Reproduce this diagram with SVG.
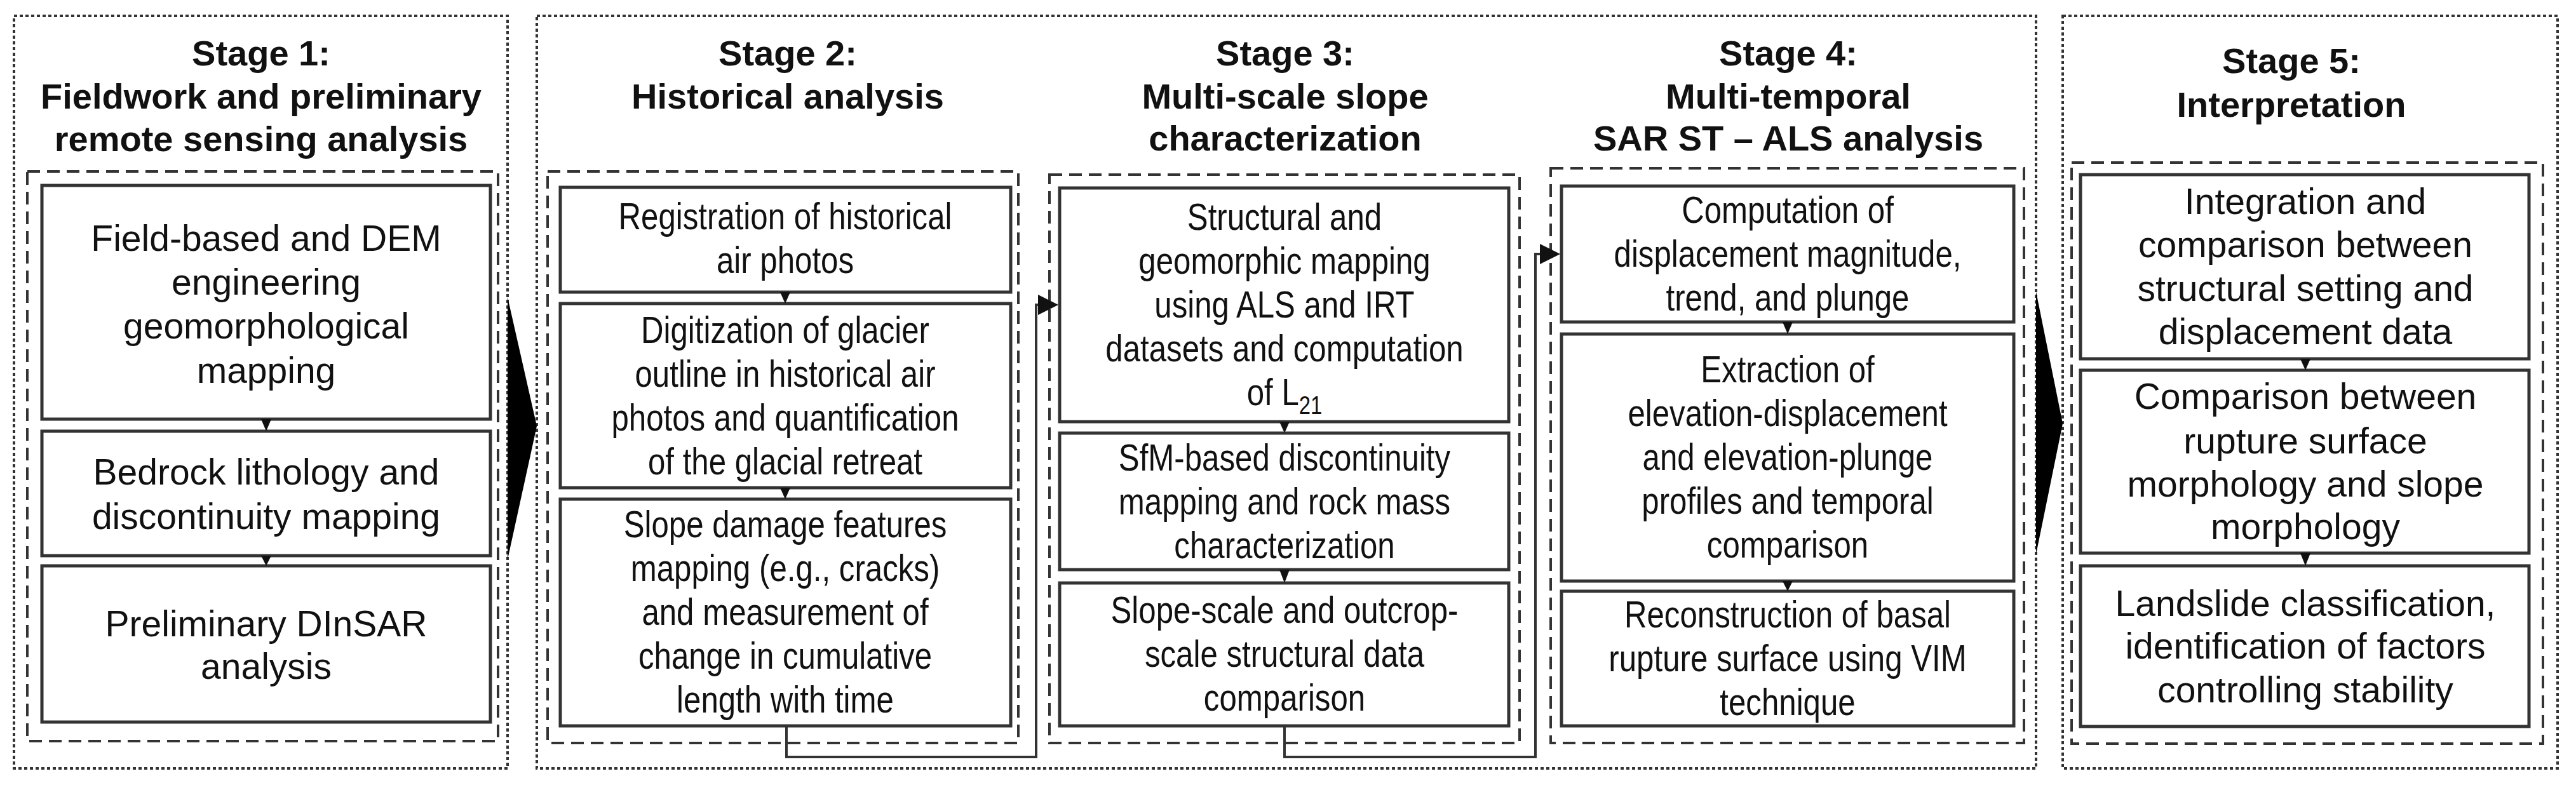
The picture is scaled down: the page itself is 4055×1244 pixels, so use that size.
<svg xmlns="http://www.w3.org/2000/svg" width="4055" height="1244" viewBox="0 0 4055 1244">
<style>
.outer{fill:none;stroke:#333;stroke-width:4;stroke-dasharray:5 4}
.inner{fill:none;stroke:#333;stroke-width:4;stroke-dasharray:20 11}
.node{fill:#fff;stroke:#333;stroke-width:5}
.title{font-family:"Liberation Sans",Arial,sans-serif;font-weight:bold;font-size:56px;text-anchor:middle;fill:#111}
.t{font-family:"Liberation Sans",Arial,sans-serif;font-size:57px;text-anchor:middle;fill:#111}
.n{font-family:"Liberation Sans",Arial,sans-serif;font-size:60px;text-anchor:middle;fill:#111}
.conn{fill:none;stroke:#333;stroke-width:4}
.big{fill:#000}
.tri{fill:#111}
</style>
<defs>
<marker id="ah" markerWidth="8" markerHeight="8" refX="7" refY="4" orient="auto" markerUnits="strokeWidth"><path d="M0,0 L8,4 L0,8 z" fill="#111"/></marker>
</defs>

<g id="stage1">
<rect class="outer" x="22" y="25" width="777" height="1185"/>
<text class="title" x="411" y="103">Stage 1:</text>
<text class="title" x="411" y="171">Fieldwork and preliminary</text>
<text class="title" x="411" y="238">remote sensing analysis</text>
<rect class="inner" x="43" y="270" width="741" height="897"/>
</g>
<g id="n1a"><rect class="node" x="66" y="292" width="706" height="368"/>
<text class="t" x="419" y="395">Field-based and DEM</text><text class="t" x="419" y="464">engineering</text><text class="t" x="419" y="533">geomorphological</text><text class="t" x="419" y="603">mapping</text></g>
<g id="n1b"><rect class="node" x="66" y="679" width="706" height="196"/>
<text class="t" x="419" y="763">Bedrock lithology and</text><text class="t" x="419" y="833">discontinuity mapping</text></g>
<g id="n1c"><rect class="node" x="66" y="891" width="706" height="246"/>
<text class="t" x="419" y="1002">Preliminary DInSAR</text><text class="t" x="419" y="1069">analysis</text></g>

<g id="stage24">
<rect class="outer" x="845" y="25" width="2360" height="1185"/>
<text class="title" x="1240" y="103">Stage 2:</text>
<text class="title" x="1240" y="171">Historical analysis</text>
<text class="title" x="2023" y="103">Stage 3:</text>
<text class="title" x="2023" y="171">Multi-scale slope</text>
<text class="title" x="2023" y="237">characterization</text>
<text class="title" x="2815" y="103">Stage 4:</text>
<text class="title" x="2815" y="171">Multi-temporal</text>
<text class="title" x="2815" y="237">SAR ST – ALS analysis</text>
<rect class="inner" x="862" y="270" width="741" height="900"/>
<rect class="inner" x="1652" y="275" width="740" height="895"/>
<rect class="inner" x="2441" y="265" width="745" height="905"/>
</g>

<g id="n2a"><rect class="node" x="882" y="295" width="709" height="165"/>
<g transform="translate(1236,0) scale(0.82,1)"><text class="n" x="0" y="361">Registration of historical</text><text class="n" x="0" y="430">air photos</text></g></g>
<g id="n2b"><rect class="node" x="882" y="478" width="709" height="290"/>
<g transform="translate(1236,0) scale(0.82,1)"><text class="n" x="0" y="540">Digitization of glacier</text><text class="n" x="0" y="609">outline in historical air</text><text class="n" x="0" y="678">photos and quantification</text><text class="n" x="0" y="747">of the glacial retreat</text></g></g>
<g id="n2c"><rect class="node" x="882" y="786" width="709" height="357"/>
<g transform="translate(1236,0) scale(0.82,1)"><text class="n" x="0" y="846">Slope damage features</text><text class="n" x="0" y="915">mapping (e.g., cracks)</text><text class="n" x="0" y="984">and measurement of</text><text class="n" x="0" y="1053">change in cumulative</text><text class="n" x="0" y="1122">length with time</text></g></g>

<g id="n3a"><rect class="node" x="1668" y="296" width="707" height="368"/>
<g transform="translate(2022,0) scale(0.82,1)"><text class="n" x="0" y="362">Structural and</text><text class="n" x="0" y="431">geomorphic mapping</text><text class="n" x="0" y="500">using ALS and IRT</text><text class="n" x="0" y="569">datasets and computation</text><text class="n" x="0" y="638">of L<tspan font-size="40" dy="14">21</tspan></text></g></g>
<g id="n3b"><rect class="node" x="1668" y="682" width="707" height="215"/>
<g transform="translate(2022,0) scale(0.82,1)"><text class="n" x="0" y="741">SfM-based discontinuity</text><text class="n" x="0" y="810">mapping and rock mass</text><text class="n" x="0" y="879">characterization</text></g></g>
<g id="n3c"><rect class="node" x="1668" y="918" width="707" height="225"/>
<g transform="translate(2022,0) scale(0.82,1)"><text class="n" x="0" y="981">Slope-scale and outcrop-</text><text class="n" x="0" y="1050">scale structural data</text><text class="n" x="0" y="1119">comparison</text></g></g>

<g id="n4a"><rect class="node" x="2458" y="293" width="712" height="214"/>
<g transform="translate(2814,0) scale(0.82,1)"><text class="n" x="0" y="351">Computation of</text><text class="n" x="0" y="420">displacement magnitude,</text><text class="n" x="0" y="489">trend, and plunge</text></g></g>
<g id="n4b"><rect class="node" x="2458" y="526" width="712" height="389"/>
<g transform="translate(2814,0) scale(0.82,1)"><text class="n" x="0" y="602">Extraction of</text><text class="n" x="0" y="671">elevation-displacement</text><text class="n" x="0" y="740">and elevation-plunge</text><text class="n" x="0" y="809">profiles and temporal</text><text class="n" x="0" y="878">comparison</text></g></g>
<g id="n4c"><rect class="node" x="2458" y="931" width="712" height="212"/>
<g transform="translate(2814,0) scale(0.82,1)"><text class="n" x="0" y="988">Reconstruction of basal</text><text class="n" x="0" y="1057">rupture surface using VIM</text><text class="n" x="0" y="1126">technique</text></g></g>

<g id="stage5">
<rect class="outer" x="3247" y="25" width="779" height="1185"/>
<text class="title" x="3607" y="115">Stage 5:</text>
<text class="title" x="3607" y="184">Interpretation</text>
<rect class="inner" x="3261" y="256" width="742" height="915"/>
</g>
<g id="n5a"><rect class="node" x="3275" y="275" width="706" height="290"/>
<text class="t" x="3629" y="337">Integration and</text><text class="t" x="3629" y="405">comparison between</text><text class="t" x="3629" y="474">structural setting and</text><text class="t" x="3629" y="542">displacement data</text></g>
<g id="n5b"><rect class="node" x="3275" y="583" width="706" height="288"/>
<text class="t" x="3629" y="644">Comparison between</text><text class="t" x="3629" y="714">rupture surface</text><text class="t" x="3629" y="782">morphology and slope</text><text class="t" x="3629" y="849">morphology</text></g>
<g id="n5c"><rect class="node" x="3275" y="891" width="706" height="253"/>
<text class="t" x="3629" y="970">Landslide classification,</text><text class="t" x="3629" y="1037">identification of factors</text><text class="t" x="3629" y="1106">controlling stability</text></g>

<g id="connectors">
<polygon class="big" points="799,468 845,671 799,881"/>
<polygon class="big" points="3205,459 3247,667 3205,873"/>
<polygon class="tri" points="411,660 427,660 419,679"/>
<polygon class="tri" points="411,875 427,875 419,891"/>
<polygon class="tri" points="1228,460 1244,460 1236,478"/>
<polygon class="tri" points="1228,768 1244,768 1236,786"/>
<polygon class="tri" points="2014,664 2030,664 2022,682"/>
<polygon class="tri" points="2014,897 2030,897 2022,918"/>
<polygon class="tri" points="2806,507 2822,507 2814,526"/>
<polygon class="tri" points="2806,915 2822,915 2814,931"/>
<polygon class="tri" points="3621,565 3637,565 3629,583"/>
<polygon class="tri" points="3621,871 3637,871 3629,891"/>
<polyline class="conn" points="1238,1143 1238,1192 1631,1192 1631,480 1662,480" marker-end="url(#ah)"/>
<polyline class="conn" points="2022,1143 2022,1192 2417,1192 2417,400 2452,400" marker-end="url(#ah)"/>
</g>
</svg>
